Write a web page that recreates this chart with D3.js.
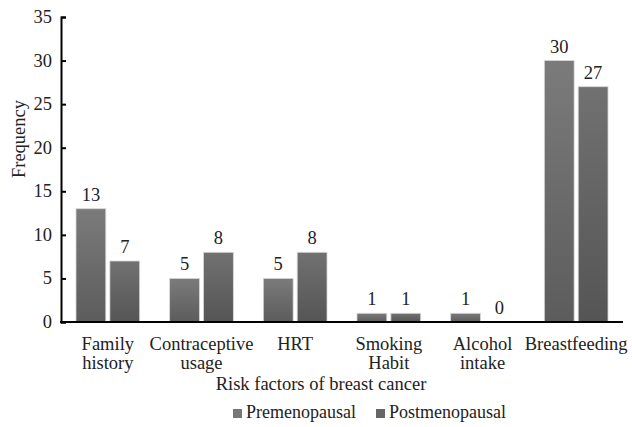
<!DOCTYPE html>
<html>
<head>
<meta charset="utf-8">
<script src="https://cdn.jsdelivr.net/npm/d3@7"></script>
</head>
<body style="margin:0">
<svg id="chart" width="632" height="427"></svg>
<script>
const categories = [["Family", "history"], ["Contraceptive", "usage"], ["HRT"], ["Smoking", "Habit"], ["Alcohol", "intake"], ["Breastfeeding"]];
const seriesNames = ["Premenopausal", "Postmenopausal"];
const premenopausal = [13, 5, 5, 1, 1, 30];
const postmenopausal = [7, 8, 8, 1, 0, 27];
const yTicks = [0, 5, 10, 15, 20, 25, 30, 35];

const FONT = '"Liberation Serif", monospace';
const FS = 18.5;
const svg = d3.select("#chart");
const W = 632, H = 427;
const margin = { left: 61, right: 9, top: 17, bottom: 105 };
const x0 = margin.left, x1 = W - margin.right;
const yBase = H - margin.bottom;

const x = d3.scaleBand().domain(d3.range(categories.length)).range([x0, x1]).paddingInner(0.32).paddingOuter(0.16);
const xs = d3.scaleBand().domain([0, 1]).range([0, x.bandwidth()]).paddingInner(0.12);
const y = d3.scaleLinear().domain([0, 35]).range([yBase, margin.top]);

// text helper, same styling everywhere
function label(sel, size = FS) {
  return sel.attr("font-size", size).style("font-family", FONT).attr("fill", "#222");
}

// gradients
const defs = svg.append("defs");
const grads = [["#7b7b7b", "#5c5c5c"], ["#717171", "#555555"]];
grads.forEach((c, i) => {
  const g = defs.append("linearGradient").attr("id", "g" + i).attr("x1", 0).attr("y1", 0).attr("x2", 0).attr("y2", 1);
  g.append("stop").attr("offset", "0%").attr("stop-color", c[0]);
  g.append("stop").attr("offset", "100%").attr("stop-color", c[1]);
});

const series = [premenopausal, postmenopausal];
series.forEach((vals, si) => {
  svg.selectAll(`rect.s${si}`).data(vals).join("rect")
    .attr("class", `s${si}`)
    .attr("x", (d, i) => x(i) + xs(si))
    .attr("width", xs.bandwidth())
    .attr("y", d => y(d))
    .attr("height", d => yBase - y(d))
    .attr("fill", `url(#g${si})`)
    .attr("stroke", "#d8d8d8")
    .attr("stroke-width", 0.8);
  svg.selectAll(`text.v${si}`).data(vals).join("text")
    .attr("class", `v${si}`)
    .attr("x", (d, i) => x(i) + xs(si) + xs.bandwidth() / 2)
    .attr("y", d => y(d) - 8)
    .attr("text-anchor", "middle")
    .call(label)
    .text(d => d);
});

// y axis: line & ticks from d3 axis, labels as plain svg text
const yAxis = svg.append("g").attr("transform", `translate(${x0},0)`)
  .call(d3.axisLeft(y).tickValues(yTicks).tickSize(-5).tickFormat(""));
yAxis.select(".domain").attr("stroke", "#000").attr("stroke-width", 2);
yAxis.selectAll(".tick line").attr("stroke", "#000").attr("stroke-width", 2);
svg.selectAll("text.ytick").data(yTicks).join("text")
  .attr("class", "ytick")
  .attr("x", x0 - 9)
  .attr("y", d => y(d) + 6)
  .attr("text-anchor", "end")
  .call(label)
  .text(d => d);

// x axis line
svg.append("line").attr("x1", x0 - 1).attr("x2", x1).attr("y1", yBase).attr("y2", yBase)
  .attr("stroke", "#000").attr("stroke-width", 2);

// category labels, one text per line
const catLines = categories.flatMap((c, i) => c.map((t, j) => ({ t, i, j })));
svg.selectAll("text.cat").data(catLines).join("text")
  .attr("class", "cat")
  .attr("x", d => x(d.i) + x.bandwidth() / 2)
  .attr("y", d => yBase + 28 + d.j * 18.5)
  .attr("text-anchor", "middle")
  .call(label)
  .text(d => d.t);

// axis titles
svg.append("text").attr("x", 321).attr("y", 390)
  .attr("text-anchor", "middle").call(label)
  .text("Risk factors of breast cancer");
svg.append("text").attr("transform", "translate(25,139) rotate(-90)")
  .attr("text-anchor", "middle").call(label)
  .text("Frequency");

// legend
const legendX = [233, 376];
const legColors = ["#777777", "#666666"];
seriesNames.forEach((n, i) => {
  svg.append("rect").attr("x", legendX[i]).attr("y", 409).attr("width", 9).attr("height", 9).attr("fill", legColors[i]);
  svg.append("text").attr("x", legendX[i] + 13).attr("y", 418).call(label, 18).text(n);
});
</script>
</body>
</html>
